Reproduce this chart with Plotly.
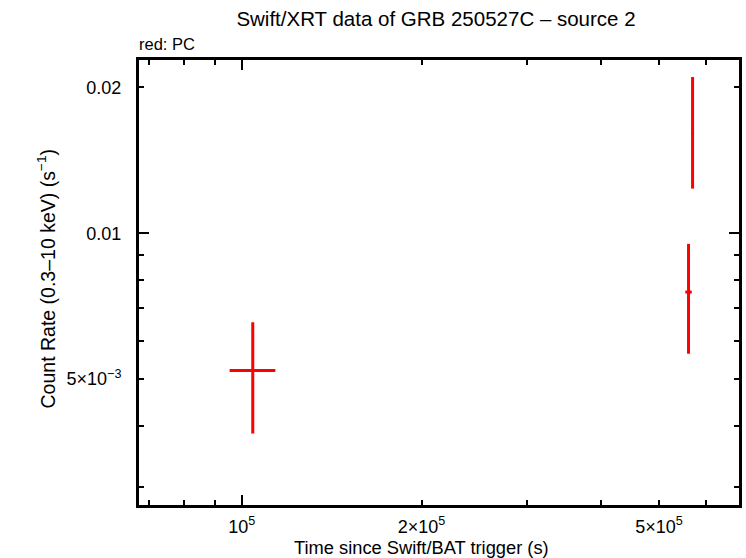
import math
import plotly.graph_objects as go

# ---- data ----
time = [1.043e5, 5.602e5, 5.69e5]
time_err_minus = [8.9e3, 7.0e3, 0.0]
time_err_plus = [9.5e3, 7.0e3, 0.0]
rate = [5.21e-3, 7.56e-3, 1.61e-2]
rate_err_minus = [1.35e-3, 1.92e-3, 3.74e-3]
rate_err_plus = [1.34e-3, 1.945e-3, 4.9e-3]

x_tick_vals = [1e5, 2e5, 5e5]
x_tick_text = ["10<sup>5</sup>", "2×10<sup>5</sup>", "5×10<sup>5</sup>"]
x_minor_vals = [7e4, 8e4, 9e4, 3e5, 4e5, 6e5]
x_decade_vals = [1e5]
y_tick_vals = [5e-3, 0.01, 0.02]
y_tick_text = ["5×10<sup>−3</sup>", "0.01", "0.02"]
y_minor_vals = [3e-3, 4e-3, 6e-3, 7e-3, 8e-3, 9e-3]
y_decade_vals = [0.01]
x_range = [67250, 680600]
y_range = [2.749e-3, 0.02277]

FONT = "Liberation Sans, Arial, Helvetica, sans-serif"
RED = "#ff0000"

fig = go.Figure()
fig.add_trace(go.Scatter(
    x=time, y=rate, mode="markers",
    marker=dict(color=RED, size=3),
    error_x=dict(type="data", symmetric=False, array=time_err_plus,
                 arrayminus=time_err_minus, color=RED, thickness=3, width=0),
    error_y=dict(type="data", symmetric=False, array=rate_err_plus,
                 arrayminus=rate_err_minus, color=RED, thickness=3, width=0),
    showlegend=False, hoverinfo="skip",
))
# invisible traces that register the overlay axes used for the long decade ticks
fig.add_trace(go.Scatter(x=time, y=rate, xaxis="x2", yaxis="y", mode="markers",
                         marker=dict(opacity=0), showlegend=False, hoverinfo="skip"))
fig.add_trace(go.Scatter(x=time, y=rate, xaxis="x", yaxis="y2", mode="markers",
                         marker=dict(opacity=0), showlegend=False, hoverinfo="skip"))

xr = [math.log10(v) for v in x_range]
yr = [math.log10(v) for v in y_range]

common = dict(showgrid=False, zeroline=False, ticks="inside", tickwidth=2,
              tickcolor="black")

L, R, T, B = 139, 4, 60, 53
PW, PH = 746 - L - R, 558 - T - B

fig.update_layout(
    width=746, height=558,
    margin=dict(l=L, r=R, t=T, b=B),
    paper_bgcolor="white", plot_bgcolor="white",
    font=dict(family=FONT, size=18, color="black"),
    title=dict(text="Swift/XRT data of GRB 250527C – source 2",
               x=436 / 746, y=1 - 19 / 558, xanchor="center", yanchor="middle",
               font=dict(family=FONT, size=20.5, color="black")),
    xaxis=dict(type="log", range=xr, showline=True, linewidth=3, linecolor="black",
               mirror="allticks", ticklen=5, tickmode="array",
               tickvals=x_tick_vals, ticktext=x_tick_text,
               tickfont=dict(family=FONT, size=18), ticklabelstandoff=3,
               minor=dict(tickmode="array", tickvals=x_minor_vals, ticks="inside",
                          ticklen=5, tickwidth=2, tickcolor="black", showgrid=False),
               **common),
    yaxis=dict(type="log", range=yr, showline=True, linewidth=3, linecolor="black",
               mirror="allticks", ticklen=5, tickmode="array",
               tickvals=y_tick_vals, ticktext=y_tick_text,
               tickfont=dict(family=FONT, size=18), ticklabelstandoff=11,
               minor=dict(tickmode="array", tickvals=y_minor_vals, ticks="inside",
                          ticklen=5, tickwidth=2, tickcolor="black", showgrid=False),
               **common),
    xaxis2=dict(type="log", range=xr, overlaying="x", anchor="y", side="bottom",
                showline=False, mirror="allticks", ticklen=10, tickmode="array",
                tickvals=x_decade_vals, showticklabels=False, **common),
    yaxis2=dict(type="log", range=yr, overlaying="y", anchor="x", side="left",
                showline=False, mirror="allticks", ticklen=10, tickmode="array",
                tickvals=y_decade_vals, showticklabels=False, **common),
    annotations=[
        dict(text="red: PC", xref="paper", yref="paper", x=(137 - L) / PW,
             y=(558 - B - 44) / PH, xanchor="left", yanchor="middle", showarrow=False,
             font=dict(family=FONT, size=16.5)),
        dict(text="Time since Swift/BAT trigger (s)", xref="paper", yref="paper",
             x=(423 - L) / PW, y=(558 - B - 547) / PH, xanchor="center",
             yanchor="middle", showarrow=False, font=dict(family=FONT, size=18.3)),
        dict(text="Count Rate (0.3–10 keV) (s<sup>−1</sup>)", xref="paper", yref="paper",
             x=(46 - L) / PW, y=(558 - B - 279) / PH, xanchor="center",
             yanchor="middle", textangle=-90, showarrow=False,
             font=dict(family=FONT, size=19.5)),
    ],
)

fig.write_html("out.html", config={"displayModeBar": False},
               post_script="document.body.style.margin='0';")
